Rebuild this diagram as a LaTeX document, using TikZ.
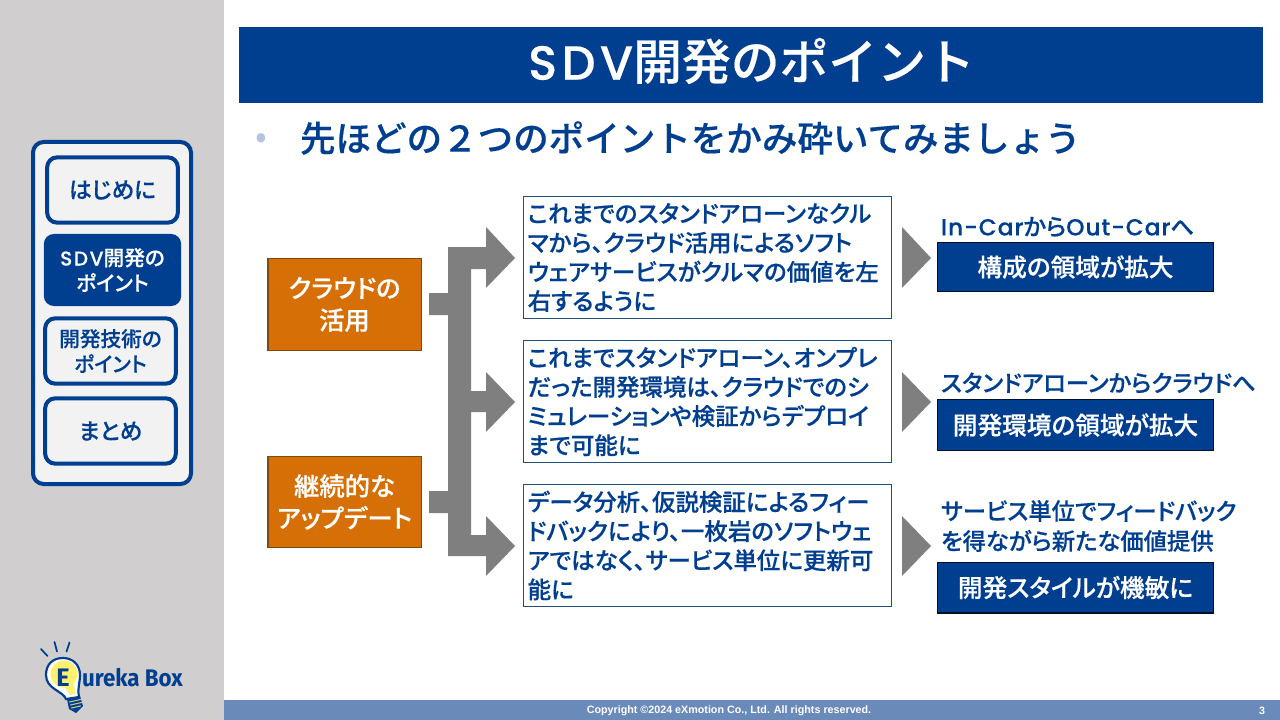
\documentclass[tikz,border=0pt]{standalone}
\usepackage{fontspec}
\setmainfont{Noto Sans CJK JP}[RawFeature={+palt},BoldFont={Noto Sans CJK JP Medium},BoldFeatures={FakeBold=0.35}]
\newfontfamily\widefont{Noto Sans CJK JP}[BoldFont={Noto Sans CJK JP Medium},BoldFeatures={FakeBold=0.35}]
\newfontfamily\latinfont{Poppins}[BoldFont={Poppins Medium}]
\newfontfamily\footfont{Liberation Sans}[BoldFont={Liberation Sans Bold}]
\newfontfamily\logofont{Fira Sans}
\definecolor{navy}{HTML}{003F8F}
\definecolor{bodyedge}{HTML}{1F4E79}
\definecolor{sidegray}{HTML}{D0CECE}
\definecolor{panel}{HTML}{F2F2F2}
\definecolor{footblue}{HTML}{6A8BBA}
\definecolor{orangebox}{HTML}{D66F06}
\definecolor{orangeedge}{HTML}{7F4A12}
\definecolor{arrowgray}{HTML}{7F7F7F}
\definecolor{bulb}{HTML}{FFF170}
\newcommand{\fs}[2]{\fontsize{#1}{#2}\selectfont}
\newcommand{\lt}[2][3]{{\latinfont\bfseries\addfontfeature{LetterSpace=#1,FakeBold=0.3}#2}}
\newcommand{\up}[1]{\raisebox{1.5pt}{#1}}
\tikzset{
  x=0.75pt,y=-0.75pt,
  every node/.style={inner sep=0pt,outer sep=0pt,font=\bfseries},
  sidebox/.style={draw=navy,line width=3pt,fill=panel,rounded corners=7.5pt,text=navy,align=center,font=\bfseries\fs{15.5}{19}},
  sideon/.style={fill=navy,rounded corners=7.5pt,text=white,align=center,font=\bfseries\fs{15.5}{19}},
  orangenode/.style={draw=orangeedge,line width=1pt,fill=orangebox,text=white,align=center,font=\bfseries\fs{19}{24}},
  bodybox/.style={draw=bodyedge,line width=0.75pt,fill=white,text=navy,align=left,font=\bfseries\fs{17.6}{21.9}},
  resultbox/.style={draw=black!75!navy,line width=1pt,fill=navy,text=white,align=center,font=\bfseries\fs{18.5}{24}},
  lead/.style={text=navy,anchor=west,align=left,font=\bfseries\fs{17.5}{22.5}},
  graypoly/.style={fill=arrowgray,draw=none},
}
\begin{document}
\begin{tikzpicture}
\useasboundingbox (0,0) rectangle (1280,720);
\fill[white] (0,0) rectangle (1280,720);
\fill[sidegray] (0,0) rectangle (224,720);
\fill[footblue] (224,700) rectangle (1280,720);
\node[text=white,font=\footfont\bfseries\fs{8.05}{10}] (copy) at (729,711) {Copyright ©2024 eXmotion Co., Ltd. All rights reserved.};
\node[text=white,font=\footfont\bfseries\fs{8}{10}] (pageno) at (1262,711) {3};

% title
\node[fill=navy,minimum width=768pt,minimum height=57pt] (title) at (751,65) {};
\node[text=white,font=\widefont\bfseries\fs{36.6}{40}] (titletext) at (751.5,61) {\lt[9]{\fs{36}{40}SDV}開発のポイント};
\node[text=navy!30,font=\fs{26}{26}] (bullet) at (261,141) {•};
\node[anchor=west,text=navy,font=\widefont\bfseries\fs{26.65}{30}] (lead0) at (300,138) {先ほどの２つのポイントをかみ砕いてみましょう};

% side panel
\draw[navy,line width=3pt,fill=panel,rounded corners=8pt] (33,142) rectangle (191,484);
\node[sidebox,minimum width=98pt,minimum height=49pt] (s1) at (112.5,190) {\fs{17}{21}はじめに};
\node[sideon,minimum width=103pt,minimum height=54pt] (s2) at (112.5,270) {\lt[8]{\fs{15}{19}SDV}開発の\\ポイント};
\node[sidebox,minimum width=98pt,minimum height=49pt] (s3) at (110.5,351) {開発技術の\\ポイント};
\node[sidebox,minimum width=98pt,minimum height=49pt] (s4) at (110.5,431) {\fs{17}{21}まとめ};

% orange
\node[orangenode,minimum width=115pt,minimum height=69pt] (o1) at (344.5,304.5) {\up{クラウドの}\\\up{活用}};
\node[orangenode,minimum width=115pt,minimum height=68pt] (o2) at (344.5,502) {\up{継続的な}\\\up{アップデート}};

% big branching arrow
\path[graypoly] (429,293) -- (448,293) -- (448,247) -- (486,247) -- (486,227) -- (515,258) -- (486,288) -- (486,269)
  -- (471,269) -- (471,391) -- (486,391) -- (486,372) -- (515,402) -- (486,432) -- (486,412) -- (471,412)
  -- (471,535) -- (486,535) -- (486,516) -- (515,546) -- (486,576) -- (486,556) -- (448,556)
  -- (448,513) -- (429,513) -- (429,491) -- (448,491) -- (448,315) -- (429,315) -- cycle;

% body boxes
\node[bodybox,text width=269pt,minimum height=92pt,inner xsep=3.5pt] (b1) at (707,257.5) {これまでのスタンドアローンなクル\\マから、クラウド活用によるソフト\\ウェアサービスがクルマの価値を左\\右するように};
\node[bodybox,text width=269pt,minimum height=92pt,inner xsep=3.5pt] (b2) at (707,401.5) {これまでスタンドアローン、オンプレ\\だった開発環境は、クラウドでのシ\\ミュレーションや検証からデプロイ\\まで可能に};
\node[bodybox,text width=269pt,minimum height=92pt,inner xsep=3.5pt] (b3) at (707,545.5) {データ分析、仮説検証によるフィー\\ドバックにより、一枚岩のソフトウェ\\アではなく、サービス単位に更新可\\能に};

% small triangles
\path[graypoly] (902,227) -- (931,258) -- (902,288) -- cycle;
\path[graypoly] (902,372) -- (931,402) -- (902,432) -- cycle;
\path[graypoly] (902,516) -- (931,546) -- (902,576) -- cycle;

% results
\node[lead] (l1) at (941,227) {\lt[4]{In-Car}から\lt[4]{Out-Car}へ};
\node[resultbox,minimum width=207pt,minimum height=37pt] (r1) at (1075.5,267) {構成の領域が拡大};
\node[lead] (l2) at (941,383) {スタンドアローンからクラウドへ};
\node[resultbox,minimum width=207pt,minimum height=38pt] (r2) at (1075.5,425) {開発環境の領域が拡大};
\node[lead] (l3) at (941,526) {サービス単位でフィードバック\\を得ながら新たな価値提供};
\node[resultbox,minimum width=207pt,minimum height=38pt] (r3) at (1075.5,587.5) {\raisebox{0.7pt}{開発スタイルが機敏に}};

% logo
\begin{scope}[navy,line cap=round]
  \draw[line width=1.3pt] (41,649) -- (47.5,656);
  \draw[line width=1.3pt] (54.5,642) -- (57,651.5);
  \draw[line width=1.3pt] (69.5,642.5) -- (66.5,651.5);
  \fill[navy] (67,699) -- (80,696) -- (83,706) -- (76,713) -- (69,709) -- cycle;
  \draw[bulb!70!black!70!white,line width=0.8pt] (69.5,702) -- (80.5,699.5) (70.5,705) -- (81.5,702.5) (71.5,708) -- (80.5,706);
  \draw[line width=1.6pt,fill=white]
    (66,699) .. controls (63,691) and (46,689) .. (46,675) .. controls (46,664) and (53,658) .. (63,658)
    .. controls (73,658) and (80,665) .. (80,675) .. controls (80,683) and (77,690) .. (79,697) -- cycle;
  \fill[bulb] (64,674) ellipse [x radius=13.5,y radius=13.5];
  \fill[bulb] (62,683) -- (74,683) -- (75,694) -- (70,695) -- cycle;
\end{scope}
\node[text=navy,font=\logofont\bfseries\fs{19}{20}] (logoE) at (63,678) {E};
\node[text=navy,anchor=west,font=\logofont\bfseries\fs{18}{20}] (logoT) at (82,678) {\scalebox{0.93}[1]{ureka Box}};
\end{tikzpicture}
\end{document}
